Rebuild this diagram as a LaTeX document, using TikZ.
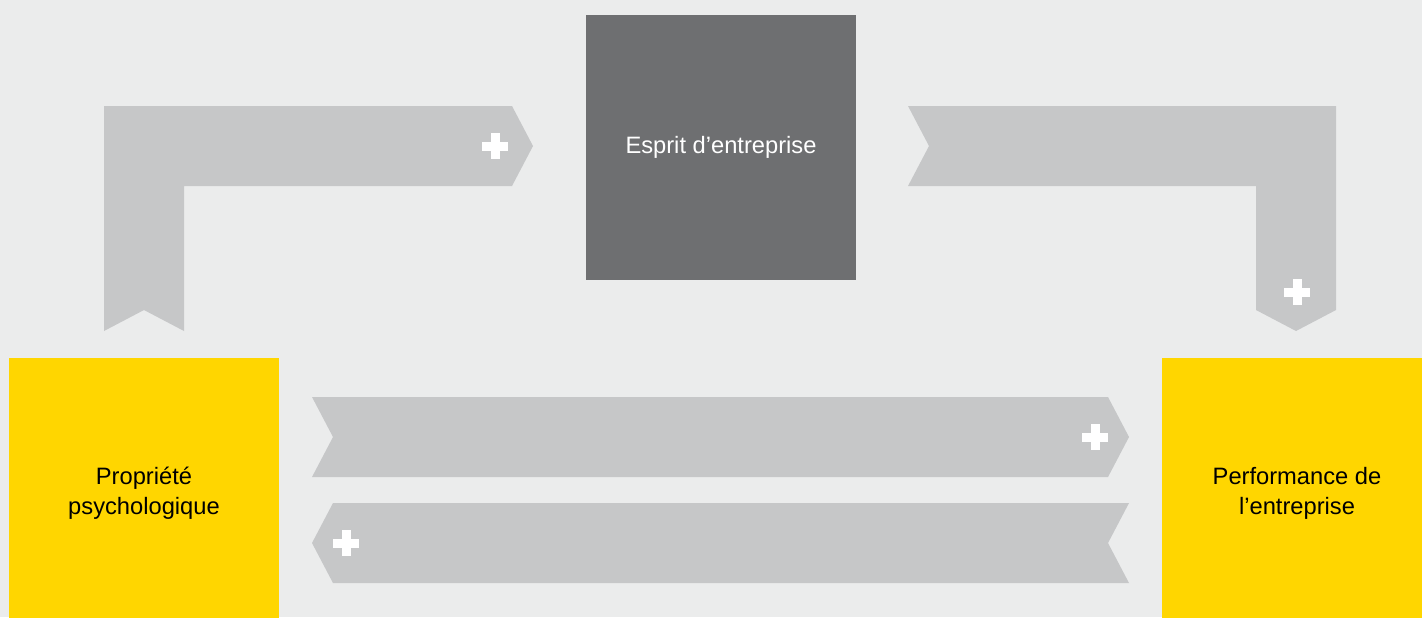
\documentclass[tikz,border=0pt]{standalone}
\usepackage{fontspec}
\setmainfont{Liberation Sans}
\usetikzlibrary{positioning,calc}
\definecolor{bgcol}{HTML}{EBECEC}
\definecolor{bandcol}{HTML}{C6C7C8}
\definecolor{darkcol}{HTML}{6E6F71}
\definecolor{eyyellow}{HTML}{FFD600}
\newcommand{\plusmark}[1]{%
  \fill[white] ($(#1)+(-13,-4.5)$) rectangle ++(26,9);
  \fill[white] ($(#1)+(-4.5,-13)$) rectangle ++(9,26);}

\begin{document}
\begin{tikzpicture}[
    x=0.5pt, y=-0.5pt,
    every node/.style={font=\fontsize{11.85}{15}\selectfont},
    box/.style={rectangle, minimum width=135pt, minimum height=135pt,
                inner sep=0pt, align=center},
    yellowbox/.style={box, fill=eyyellow, text=black},
    darkbox/.style={box, minimum height=132.5pt, fill=darkcol, text=white},
    band/.style={fill=bandcol},
]

\useasboundingbox (0,0) rectangle (1422,617);
\clip (0,0) rectangle (1422,617);
\fill[bgcol] (0,0) rectangle (1422,617);

% Boxes
\node[yellowbox] (owner)  at (144,493)  {Propriété\\psychologique};
\node[darkbox]   (spirit) at (721,147.5) {Esprit d’entreprise};
\node[yellowbox] (perf)   at (1297,493) {Performance de\\l’entreprise};

% Bands: owner -> spirit -> perf, owner <-> perf
\fill[band] (104,331) -- (104,106) -- (512,106) -- (533,146) -- (512,186)
  -- (184,186) -- (184,331) -- (144,310) -- cycle;
\fill[band] (908,106) -- (1336,106) -- (1336,310) -- (1296,331) -- (1256,310)
  -- (1256,186) -- (908,186) -- (929,146) -- cycle;
\fill[band] (312,397) -- (1108,397) -- (1129,437) -- (1108,477)
  -- (312,477) -- (333,437) -- cycle;
\fill[band] (333,503) -- (1129,503) -- (1108,543) -- (1129,583)
  -- (333,583) -- (312,543) -- cycle;

% Plus signs
\coordinate (p1) at (495,146);
\coordinate (p2) at (1297,292);
\coordinate (p3) at (1095,437);
\coordinate (p4) at (346,543);
\plusmark{p1}
\plusmark{p2}
\plusmark{p3}
\plusmark{p4}

\end{tikzpicture}
\end{document}
